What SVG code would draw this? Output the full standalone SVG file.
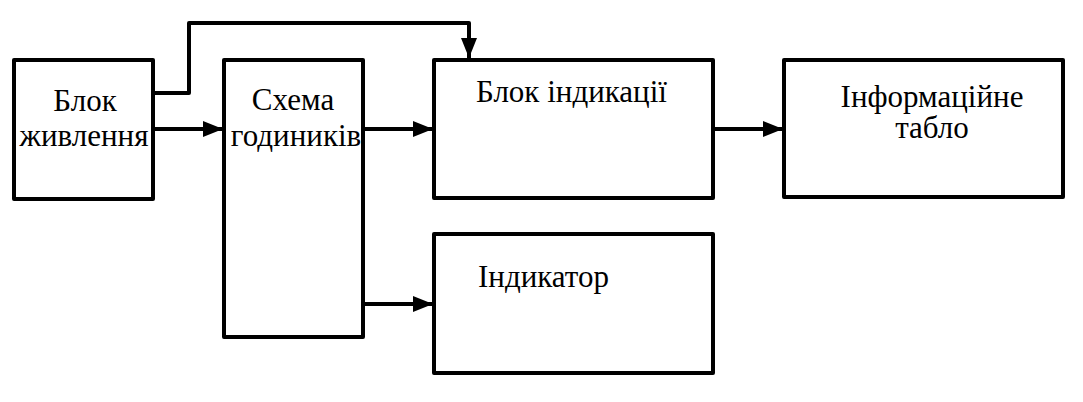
<svg xmlns="http://www.w3.org/2000/svg" width="1083" height="402" viewBox="0 0 1083 402">
<defs>
<style>
.box{fill:#fff;stroke:#000;stroke-width:4;stroke-linejoin:round}
.t{font-family:"Liberation Serif","Times New Roman",serif;font-size:31px;fill:#000}
.m{text-anchor:middle}
.c{fill:none;stroke:#000;stroke-width:4;stroke-linejoin:round}
</style>
<marker id="ah" viewBox="0 0 20 16" refX="20" refY="8" markerWidth="20" markerHeight="16" markerUnits="userSpaceOnUse" orient="auto">
<path d="M0,0 L20,8 L0,16 Z" fill="#000"/>
</marker>
</defs>
<rect width="1083" height="402" fill="#fff"/>
<g id="connectors">
<path class="c" d="M154,93 H189 V23 H469 V58" marker-end="url(#ah)"/>
<path class="c" d="M154,129 H223" marker-end="url(#ah)"/>
<path class="c" d="M363,129 H433" marker-end="url(#ah)"/>
<path class="c" d="M713,129 H783" marker-end="url(#ah)"/>
<path class="c" d="M363,304 H433" marker-end="url(#ah)"/>
</g>
<g id="n1">
<rect class="box" x="14" y="60" width="139" height="139"/>
<text class="t m" x="85" y="111">Блок</text>
<text class="t m" x="84" y="146">живлення</text>
</g>
<g id="n2">
<rect class="box" x="224" y="60" width="139" height="277"/>
<text class="t m" x="293" y="110">Схема</text>
<text class="t m" x="296" y="146">годиників</text>
</g>
<g id="n3">
<rect class="box" x="434" y="60" width="279" height="138"/>
<text class="t" x="476" y="102">Блок індикації</text>
</g>
<g id="n4">
<rect class="box" x="784" y="60" width="279" height="137"/>
<text class="t m" x="932" y="107">Інформаційне</text>
<text class="t m" x="932" y="138">табло</text>
</g>
<g id="n5">
<rect class="box" x="434" y="234" width="279" height="139"/>
<text class="t" x="478" y="287">Індикатор</text>
</g>
</svg>
